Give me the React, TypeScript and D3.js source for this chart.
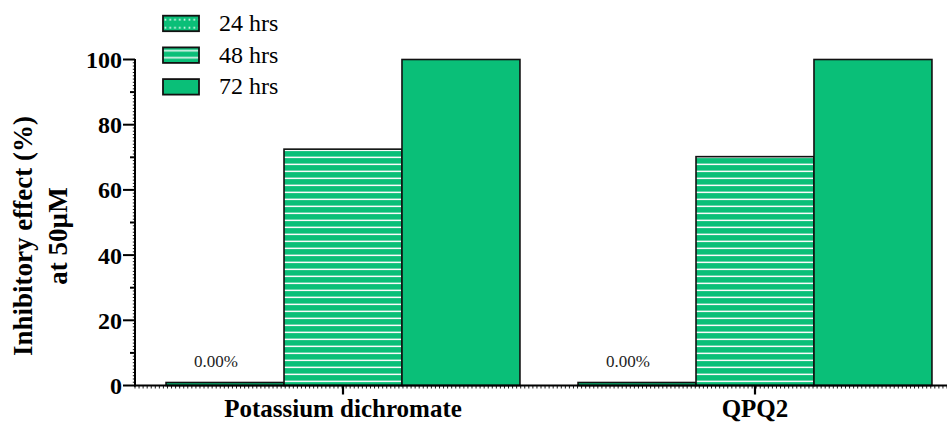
import React from "react";
import * as d3 from "d3";

// Inhibitory effect at 50 µM for two compounds over three exposure times
const categories = ["Potassium dichromate", "QPQ2"];
const seriesNames = ["24 hrs", "48 hrs", "72 hrs"];
const values24 = [0, 0];
const values48 = [72.5, 70.2];
const values72 = [100, 100];
const valueLabels = ["0.00%", "0.00%"];
const yTicks = [0, 20, 40, 60, 80, 100];

const WIDTH = 947;
const HEIGHT = 423;
const GREEN = "#0abf78";
const SERIF = '"Liberation Serif", "Times New Roman", serif';

const seriesValues = [values24, values48, values72];
const seriesFill = ["url(#dots)", "url(#hlines)", GREEN];

export default function App() {
  const y = d3.scaleLinear().domain([0, 100]).range([385.5, 59.5]);
  const x0 = d3
    .scaleBand<string>()
    .domain(categories)
    .range([137, 961])
    .paddingInner(0.141)
    .paddingOuter(0.0705);
  const x1 = d3
    .scaleBand<string>()
    .domain(seriesNames)
    .range([0, x0.bandwidth()])
    .padding(0);

  const axisX = 135;
  const axisY = y(0);
  const xEnd = WIDTH;

  // fine ruler ticks along both axes
  const yFine = d3.range(0, 101, 1);
  const xRuler = d3.scaleLinear().domain([0, 200]).range([axisX, xEnd]);
  const xFine = d3.range(0, 201, 1);

  // zero-valued bars still show as a thin outlined strip
  const minBarHeight = 3;
  const txt = { fontFamily: SERIF };

  return (
    <svg
      width={WIDTH}
      height={HEIGHT}
      style={{ position: "absolute", left: 0, top: 0, background: "#fff", fontFamily: SERIF }}
    >
      <defs>
        <pattern id="dots" patternUnits="userSpaceOnUse" width={4.8} height={8}>
          <rect width={4.8} height={8} fill={GREEN} />
          <rect x={1.6} y={3.2} width={1.6} height={1.6} fill="#fff" />
        </pattern>
        <pattern id="hlines" patternUnits="userSpaceOnUse" width={10} height={7}>
          <rect width={10} height={7} fill={GREEN} />
          <rect x={0} y={2.6} width={10} height={1.5} fill="#fafafa" />
        </pattern>
      </defs>

      {/* bars */}
      {categories.map((cat, ci) => (
        <g key={cat} transform={`translate(${x0(cat)},0)`}>
          {seriesNames.map((s, si) => {
            const v = seriesValues[si][ci];
            const h = Math.max(y(0) - y(v), minBarHeight);
            return (
              <rect
                key={s}
                x={x1(s)}
                y={y(0) - h}
                width={x1.bandwidth()}
                height={h}
                fill={seriesFill[si]}
                stroke="#111"
                strokeWidth={1.6}
              />
            );
          })}
          <text
            x={(x1(seriesNames[0]) as number) + x1.bandwidth() / 2 - 9}
            y={y(values24[ci]) - 19}
            textAnchor="middle"
            fontSize={17}
            fill="#222"
            style={txt}
          >
            {valueLabels[ci]}
          </text>
        </g>
      ))}

      {/* y axis */}
      <line x1={axisX} x2={axisX} y1={y(100) - 0.5} y2={axisY + 1} stroke="#000" strokeWidth={2} />
      {yFine.map((t) => {
        const len = t % 20 === 0 ? 12 : t % 10 === 0 ? 5 : 2.2;
        return (
          <line
            key={`yf${t}`}
            x1={axisX - len}
            x2={axisX}
            y1={y(t)}
            y2={y(t)}
            stroke="#000"
            strokeWidth={t % 10 === 0 ? 2 : 0.9}
          />
        );
      })}
      {yTicks.map((t) => (
        <text
          key={`yt${t}`}
          x={122}
          y={y(t)}
          dy="0.35em"
          textAnchor="end"
          fontSize={24}
          fontWeight="bold"
          fill="#000"
          style={txt}
        >
          {t}
        </text>
      ))}

      {/* x axis */}
      <line x1={axisX - 1} x2={xEnd} y1={axisY} y2={axisY} stroke="#000" strokeWidth={1.8} />
      {xFine.map((t) => (
        <line
          key={`xf${t}`}
          x1={xRuler(t)}
          x2={xRuler(t)}
          y1={axisY}
          y2={axisY + 3}
          stroke="#000"
          strokeWidth={0.9}
        />
      ))}
      {categories.map((cat) => {
        const cx = (x0(cat) as number) + x0.bandwidth() / 2;
        return (
          <g key={`xt${cat}`}>
            <line x1={cx} x2={cx} y1={axisY} y2={axisY + 9} stroke="#000" strokeWidth={2.2} />
            <text
              x={cx}
              y={416.5}
              textAnchor="middle"
              fontSize={25}
              fontWeight="bold"
              fill="#000"
              style={txt}
            >
              {cat}
            </text>
          </g>
        );
      })}

      {/* y axis title */}
      <g transform="translate(0,236) rotate(-90)" fill="#000">
        <text x={0} y={32} textAnchor="middle" fontSize={27} fontWeight="bold" style={txt}>
          Inhibitory effect (%)
        </text>
        <text x={0} y={67} textAnchor="middle" fontSize={27} fontWeight="bold" style={txt}>
          at 50µM
        </text>
      </g>

      {/* legend */}
      {seriesNames.map((s, i) => (
        <g key={`lg${s}`} transform={`translate(163,${15.7 + i * 31.7})`}>
          <rect width={36} height={15.5} fill={seriesFill[i]} stroke="#111" strokeWidth={1.8} />
          <text x={56} y={15.3} fontSize={24} fill="#000" style={txt}>
            {s}
          </text>
        </g>
      ))}
    </svg>
  );
}
